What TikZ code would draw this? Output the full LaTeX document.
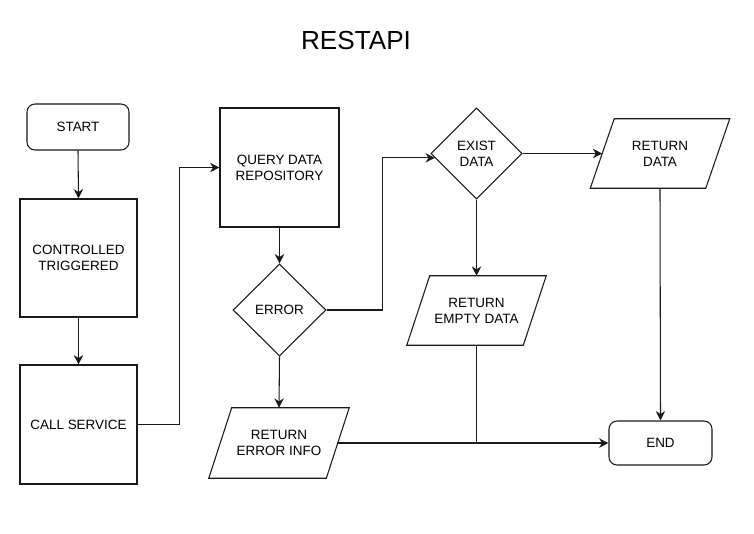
\documentclass[tikz,border=0pt]{standalone}
\usepackage{fontspec}
\setmainfont{Liberation Sans}
\usetikzlibrary{shapes.geometric,arrows.meta}
% slanted input/output box drawn around a named body node: #1 name, #2 slant offset
\newcommand\iodraw[2]{%
  \draw[line] ([xshift=#2]#1.north west) -- ([xshift=#2]#1.north east)
    -- ([xshift=-#2]#1.south east) -- ([xshift=-#2]#1.south west) -- cycle;}
\begin{document}
\begin{tikzpicture}[x=0.75pt,y=-0.75pt,
  every node/.style={font=\fontsize{10.1pt}{12pt}\selectfont, align=center, text=black},
  line/.style={draw=black!90, line width=0.8pt},
  arrow/.style={line, -{Stealth[length=7pt,width=7pt,inset=2.2pt]}},
  terminal/.style={line, rectangle, rounded corners=6pt, inner sep=0pt},
  process/.style={line, rectangle, inner sep=0pt},
  decision/.style={line, diamond, inner sep=0pt},
  iobody/.style={rectangle, inner sep=0pt},
]
\useasboundingbox (0,0) rectangle (754,533);

% title
\node[anchor=base, font=\fontsize{19.6pt}{23pt}\selectfont] (title) at (356,49) {RESTAPI};

% left column
\node[terminal, minimum width=76.5pt, minimum height=34.5pt] (start) at (78,127) {START};
\node[process, minimum width=87.75pt, minimum height=88.5pt] (ctrl) at (78.5,258) {CONTROLLED\\TRIGGERED};
\node[process, minimum width=87.75pt, minimum height=89.25pt] (call) at (78.5,424.5) {CALL SERVICE};

% middle column
\node[process, minimum width=89.25pt, minimum height=89.25pt] (query) at (279.5,167.5) {QUERY DATA\\REPOSITORY};
\node[decision, minimum width=69.75pt, minimum height=69pt] (err) at (279.5,310) {ERROR};
\node[iobody, minimum width=87.75pt, minimum height=52.5pt] (errinfo) at (279,443) {RETURN\\ERROR INFO};
\iodraw{errinfo}{8.6pt}

% right part
\node[decision, minimum width=68.25pt, minimum height=68.25pt] (exist) at (476.5,153.5) {EXIST\\DATA};
\node[iobody, minimum width=86.25pt, minimum height=51.75pt] (retdata) at (660,153.5) {RETURN\\DATA};
\iodraw{retdata}{9pt}
\node[iobody, minimum width=87pt, minimum height=51.75pt] (empty) at (476.5,310.5) {RETURN\\EMPTY DATA};
\iodraw{empty}{8.6pt}
\node[terminal, minimum width=77.25pt, minimum height=33pt] (end) at (660.5,443) {END};

% connectors
\draw[arrow] (start.south) -- (ctrl.north);
\draw[arrow] (ctrl.south) -- (call.north);
\draw[arrow] (call.east) -| ([xshift=-30pt]query.west) -- (query.west);
\draw[arrow] (query.south) -- (err.north);
\draw[arrow] (err.south) -- (errinfo.north);
\draw[arrow] (err.east) -| ([xshift=-39pt]exist.186) -- (exist.186);
\draw[arrow] (exist.east) -- (retdata.west);
\draw[arrow] (exist.south) -- (empty.north);
\draw[arrow] (errinfo.east) -- (end.west);
\draw[line] (empty.south) -- (empty.south |- end.west);
\draw[arrow] (retdata.south) -- (end.north);
\end{tikzpicture}
\end{document}
